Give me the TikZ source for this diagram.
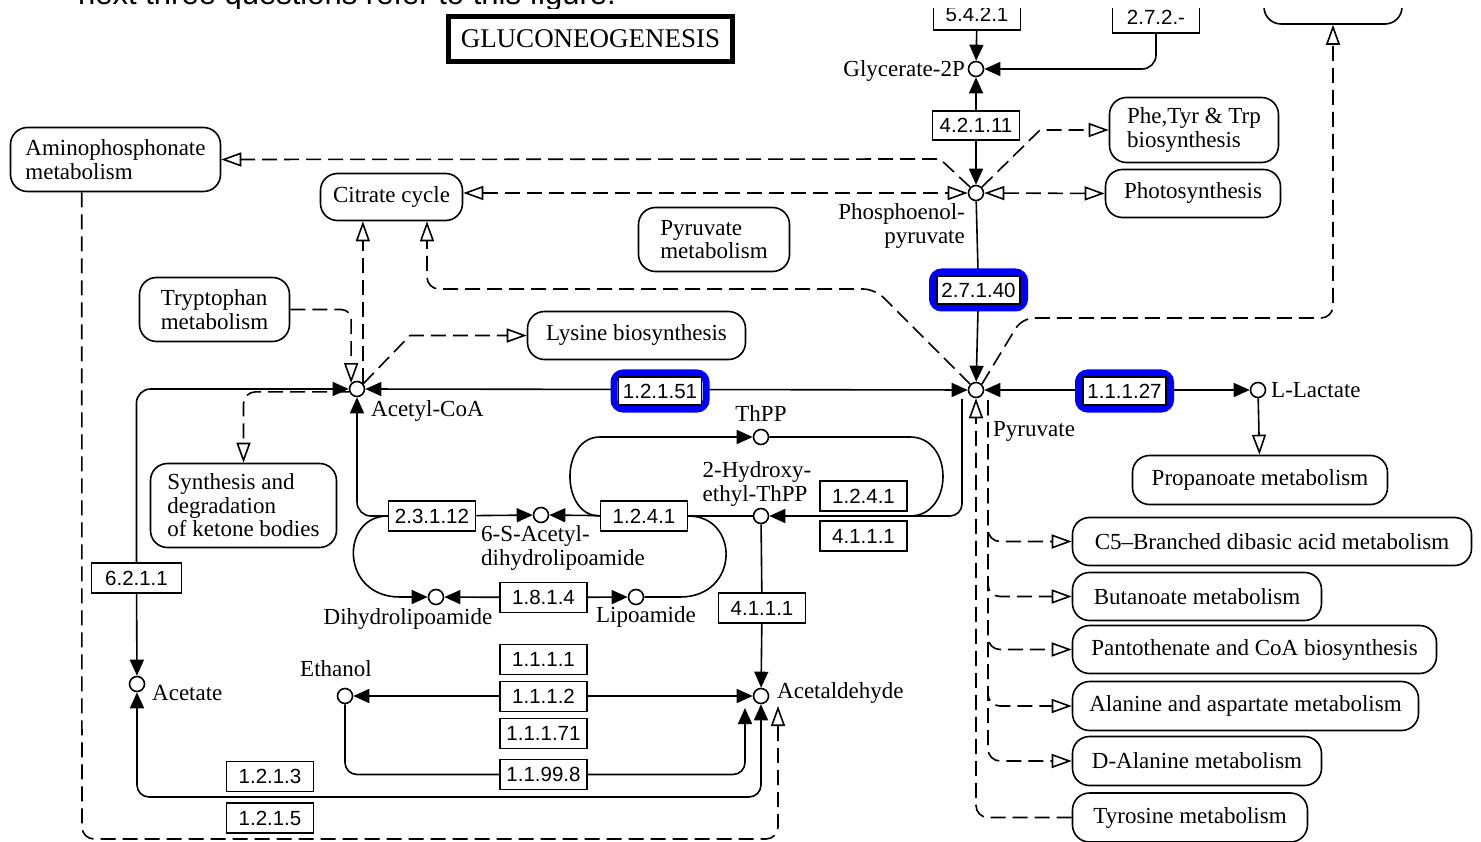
\documentclass[tikz,border=0pt]{standalone}
\usepackage{fontspec}
\setmainfont{Liberation Serif}
\newfontfamily\ecsans{Liberation Sans}
\usetikzlibrary{arrows.meta,calc}
\pgfdeclarelayer{bg}
\pgfsetlayers{bg,main}
\newcommand{\labfnt}{\fontsize{23}{23.5}\selectfont}
\newcommand{\ecfnt}{\ecsans\fontsize{20.5}{22}\selectfont}
\begin{document}
\begin{tikzpicture}[x=1pt,y=-1pt,
 conn/.style={line width=1.6pt},
 dsh/.style={line width=1.6pt, dash pattern=on 15pt off 7pt},
 fa/.style={-{Triangle[length=16pt,width=14pt]}},
 fab/.style={{Triangle[length=16pt,width=14pt]}-{Triangle[length=16pt,width=14pt]}},
 oa/.style={-{Triangle[open,length=20pt,width=14pt]}},
 oab/.style={{Triangle[open,length=20pt,width=14pt]}-{Triangle[open,length=20pt,width=14pt]}},
 met/.style={circle, draw, line width=1.6pt, fill=white, minimum size=15pt, inner sep=0pt},
 ec/.style={draw, line width=1.5pt, fill=white, minimum width=87pt, minimum height=30pt, inner sep=0pt, font=\ecfnt},
 ech/.style={ec, minimum width=83pt, minimum height=28pt},
 hl/.style={draw=blue, fill=white, line width=7pt, rounded corners=9pt, minimum width=92pt, minimum height=36pt, inner sep=0pt},
 pw/.style={draw, line width=1.6pt, rounded corners=17pt, fill=white, inner sep=0pt, align=left, font=\labfnt},
 lbl/.style={inner sep=0pt, font=\labfnt},
]
\useasboundingbox (0,0) rectangle (1481,842);

\begin{scope}
\clip (0,-40) rectangle (1481,9);
\node[anchor=base west, inner sep=0pt, font=\ecsans\fontsize{31}{34}\selectfont] (cap) at (78,5) {next three questions refer to this figure.};
\end{scope}

\begin{scope}
\clip (0,9) rectangle (1481,850);
% title
\node[draw, line width=5pt, minimum width=284pt, minimum height=45pt, inner sep=0pt, font=\fontsize{27}{30}\selectfont] (title) at (590.5,39) {GLUCONEOGENESIS};

% metabolites
\node[met] (g2p) at (976,69) {};
\node[met] (pep) at (976,193) {};
\node[met] (pyr) at (976,390) {};
\node[met] (lac) at (1258,390) {};
\node[met] (acoa) at (357,389) {};
\node[met] (thpp) at (761,437) {};
\node[met] (hthpp) at (761,516) {};
\node[met] (sacd) at (541,515) {};
\node[met] (dhl) at (436,597) {};
\node[met] (lip) at (636,597) {};
\node[met] (acald) at (761,696) {};
\node[met] (etoh) at (345,696) {};
\node[met] (acet) at (137,684) {};

% labels
\node[lbl, anchor=east] (lg2p) at (965,71) {Glycerate-2P};
\node[lbl, anchor=east, align=right] (lpep) at (965,226) {Phosphoenol-\\pyruvate};
\node[lbl, anchor=west] (lpyr) at (993,431) {Pyruvate};
\node[lbl, anchor=west] (llac) at (1271,390) {L-Lactate};
\node[lbl, anchor=west] (lacoa) at (371,411) {Acetyl-CoA};
\node[lbl] (lthpp) at (761,414) {ThPP};
\node[lbl, align=left] (lhthpp) at (757,484) {2-Hydroxy-\\ethyl-ThPP};
\node[lbl, align=left, anchor=west] (lsacd) at (481,548) {6-S-Acetyl-\\dihydrolipoamide};
\node[lbl] (ldhl) at (408,619) {Dihydrolipoamide};
\node[lbl] (llip) at (646,617) {Lipoamide};
\node[lbl, anchor=west] (lacald) at (777,693) {Acetaldehyde};
\node[lbl] (letoh) at (336,669) {Ethanol};
\node[lbl, anchor=west] (lacet) at (152,693) {Acetate};

% pathway boxes
\node[pw, minimum width=210pt, minimum height=64pt] (amino) at (115.5,159.5) {Aminophosphonate\\metabolism};
\node[pw, minimum width=142pt, minimum height=47pt] (cit) at (391.5,197) {Citrate cycle};
\node[pw, minimum width=151pt, minimum height=64pt] (pyrmet) at (714,239.5) {Pyruvate\\metabolism};
\node[pw, minimum width=150pt, minimum height=64pt] (trp) at (214.5,309.5) {Tryptophan\\metabolism};
\node[pw, minimum width=218pt, minimum height=48pt] (lys) at (636.5,335.5) {Lysine biosynthesis};
\node[pw, minimum width=186pt, minimum height=84pt] (ket) at (243.5,505.5) {Synthesis and\\degradation\\of ketone bodies};
\node[pw, minimum width=169pt, minimum height=65pt] (phe) at (1194,130) {Phe,Tyr \& Trp\\biosynthesis};
\node[pw, minimum width=175pt, minimum height=48pt] (photo) at (1193,193.5) {Photosynthesis};
\node[pw, minimum width=255pt, minimum height=49pt] (prop) at (1260,480) {Propanoate metabolism};
\node[pw, minimum width=399pt, minimum height=48pt] (c5) at (1272,541.5) {C5–Branched dibasic acid metabolism};
\node[pw, minimum width=249pt, minimum height=48pt] (but) at (1197,596.5) {Butanoate metabolism};
\node[pw, minimum width=364pt, minimum height=48pt] (pant) at (1254.5,649.5) {Pantothenate and CoA biosynthesis};
\node[pw, minimum width=346pt, minimum height=49pt] (ala) at (1245.5,706) {Alanine and aspartate metabolism};
\node[pw, minimum width=249pt, minimum height=49pt] (dala) at (1197,761) {D-Alanine metabolism};
\node[pw, minimum width=235pt, minimum height=49pt] (tyr) at (1190,817.5) {Tyrosine metabolism};
\node[pw, minimum width=138pt, minimum height=70pt] (topbox) at (1333,-11) {};

% enzymes
\node[ec, minimum height=31pt] (e5421) at (977,14.5) {5.4.2.1};
\node[ec, minimum height=31pt] (e272) at (1156,17.5) {2.7.2.-};
\node[ec, minimum height=29pt] (e42111) at (976,125.5) {4.2.1.11};
\node[hl] (h27140) at (978.5,290) {};
\node[ech] (e27140) at (978.5,290) {2.7.1.40};
\node[hl] (h12151) at (660,391) {};
\node[ech] (e12151) at (660,391) {1.2.1.51};
\node[hl] (h11127) at (1124.5,391) {};
\node[ech] (e11127) at (1124.5,391) {1.1.1.27};
\node[ec] (e1241a) at (863.5,496) {1.2.4.1};
\node[ec] (e4111a) at (863.5,536) {4.1.1.1};
\node[ec] (e1241b) at (644,516) {1.2.4.1};
\node[ec] (e23112) at (432,516) {2.3.1.12};
\node[ec] (e1814) at (543.5,597.5) {1.8.1.4};
\node[ec] (e4111b) at (762,608) {4.1.1.1};
\node[ec] (e1111) at (543.5,659.5) {1.1.1.1};
\node[ec] (e1112) at (543.5,696.5) {1.1.1.2};
\node[ec] (e11171) at (543.5,733.5) {1.1.1.71};
\node[ec] (e11998) at (543.5,774.5) {1.1.99.8};
\node[ec, minimum width=90pt] (e6211) at (136.5,578) {6.2.1.1};
\node[ec] (e1213) at (270,776.5) {1.2.1.3};
\node[ec] (e1215) at (270,818) {1.2.1.5};
\end{scope}

\begin{pgfonlayer}{bg}
% glycerate-2P
\draw[conn, fa] (e5421) -- (g2p);
\draw[conn, fa] (e42111) -- (g2p);
\draw[conn, fa, rounded corners=14pt] (e272.south) |- (g2p.east);
\draw[conn, fa] (e42111) -- (pep);
% PEP dashed links
\draw[dsh, oab] (cit.east |- pep.west) -- (pep.west);
\draw[dsh, oa] (pep.north west) -- (940,159) -- (amino.east);
\draw[dsh, oa] (pep.north east) -- (1040,130) -- (phe.west);
\draw[dsh, oab] (pep.east) -- (photo.west);
\draw[conn] (pep) -- (e27140);
\draw[conn, fa] (e27140) -- (pyr);
% pyruvate
\draw[conn, fab] (acoa) -- (pyr);
\draw[conn, fab] (pyr) -- (lac);
\draw[conn, oa] (lac) -- (prop);
\draw[dsh, oa, rounded corners=12pt] (pyr.north west) -- (875,289) -| ($(cit.south)+(35.5,0)$);
\draw[dsh, oa, rounded corners=12pt] (pyr.north east) -- (1022,318) -| (topbox.south);
\draw[dsh, oa, rounded corners=12pt] (tyr.west) -| (pyr.south);
\coordinate (pyrR) at (988,400);
\foreach \bx in {c5,but,pant,ala,dala}
  \draw[dsh, oa, rounded corners=12pt] (pyrR) |- (\bx.west);
\coordinate (pyrL) at (962,399);
\draw[conn, fa, rounded corners=12pt] (pyrL) |- (hthpp.east);
% acetyl-CoA
\draw[conn, fa, rounded corners=14pt] (e6211.north) |- (acoa.west);
\draw[conn, fa] (e6211) -- (acet);
\draw[dsh, oa, rounded corners=12pt] (acoa.200) -| (ket.north);
\draw[dsh, oa, rounded corners=10pt] (trp.east) -| (acoa.north west);
\draw[dsh, oa] (acoa.north east) -- (acoa.north east |- cit.south);
\draw[dsh, oa] (acoa.40) -- (410,335.5) -- (lys.west);
\draw[conn, fa, rounded corners=14pt] (e23112.west) -| (acoa.south);
% ThPP loop
\draw[conn, fa] (e1241b.west) .. controls (560,516) and (560,437) .. (600,437) -- (thpp.west);
\draw[conn] (thpp.east) -- (910,437) .. controls (954,437) and (954,516) .. (910,516);
% lipoamide cycle
\draw[conn, fa] (e23112.west) .. controls (340,516) and (340,597) .. (400,597) -- (dhl.west);
\draw[conn] (e1241b.east) .. controls (740,516) and (740,597) .. (680,597) -- (lip.east);
\draw[conn, fa] (e23112) -- (sacd);
\draw[conn, fa] (e1241b) -- (sacd);
\draw[conn] (hthpp) -- (e1241b);
\draw[conn, fa] (e1814) -- (dhl);
\draw[conn, fa] (e1814) -- (lip);
\draw[conn] (hthpp) -- (e4111b);
\draw[conn, fa] (e4111b) -- (acald);
% ethanol / acetaldehyde / acetate
\draw[conn, fab] (etoh) -- (acald);
\coordinate (acL) at (745,708);
\coordinate (acR) at (778,706);
\draw[conn, fa, rounded corners=12pt] (etoh.south) |- (e11998.west) -- (e11998.east) -| (acL);
\draw[conn, fab, rounded corners=12pt] (acet.south) -- (137,797) -- (761,797) -- (acald.south);
\draw[dsh, oa, rounded corners=12pt] ($(amino.south west)+(72,0)$) -- (82,839) -- (778,839) -- (acR);
\end{pgfonlayer}
\end{tikzpicture}
\end{document}
